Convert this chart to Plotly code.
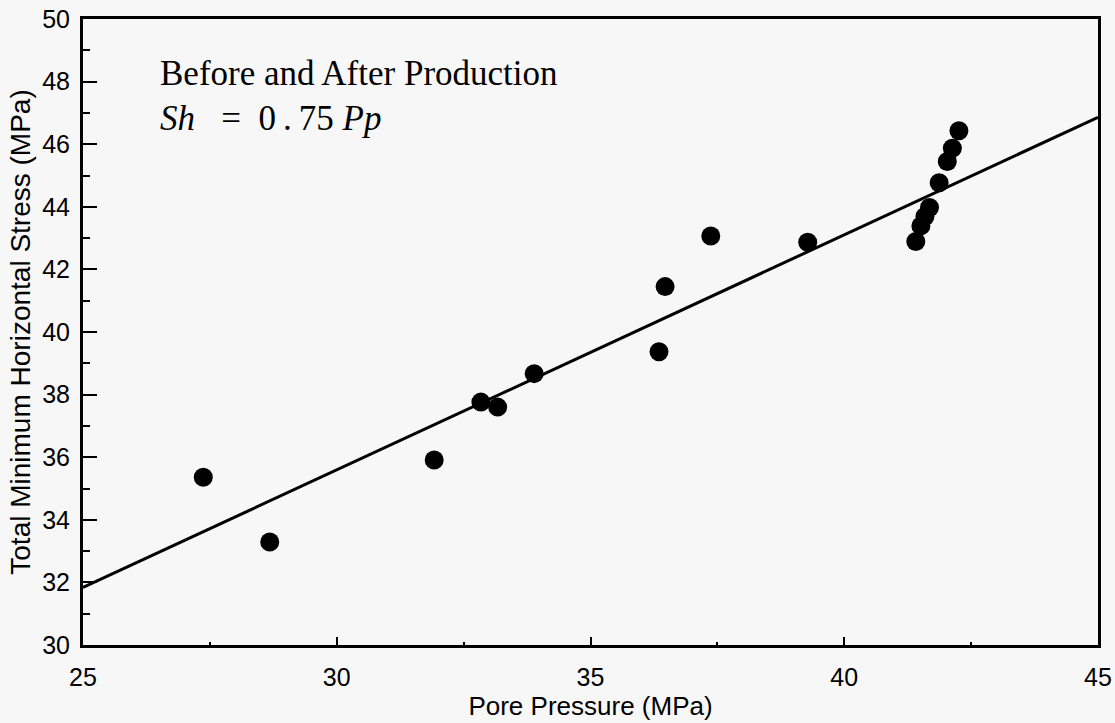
import plotly.graph_objects as go

# Data
pore_pressure = [27.37, 28.68, 31.92, 32.84, 33.17, 33.89, 36.35, 36.47, 37.37, 39.28,
                 41.41, 41.51, 41.59, 41.68, 41.87, 42.03, 42.13, 42.26]
min_horiz_stress = [35.36, 33.29, 35.91, 37.76, 37.60, 38.67, 39.37, 41.45, 43.07, 42.87,
                    42.89, 43.39, 43.69, 43.98, 44.77, 45.45, 45.87, 46.43]

fit_x = [25, 45]
fit_y = [31.84, 46.86]

x_ticks = [25, 30, 35, 40, 45]
y_ticks = [30, 32, 34, 36, 38, 40, 42, 44, 46, 48, 50]

title_line1 = "Before and After Production"
title_line2 = "<i>Sh</i>\u00a0\u00a0 =\u00a0 0\u2009.\u200975 <i>Pp</i>"

BG = "#f7f7f7"
SANS = "Liberation Sans, Arial, sans-serif"
SERIF = "Liberation Serif, Times New Roman, serif"

fig = go.Figure()
fig.add_trace(go.Scatter(x=fit_x, y=fit_y, mode="lines",
                         line=dict(color="black", width=3), showlegend=False,
                         hoverinfo="skip"))
fig.add_trace(go.Scatter(x=pore_pressure, y=min_horiz_stress, mode="markers",
                         marker=dict(color="black", size=19, line=dict(width=0)),
                         showlegend=False))

fig.update_layout(
    width=1115, height=723,
    margin=dict(l=83, r=17, t=19, b=78),
    paper_bgcolor=BG, plot_bgcolor=BG,
    font=dict(family=SANS, color="black", size=25),
    xaxis=dict(range=[25, 45], tickvals=x_ticks, ticktext=[str(v) for v in x_ticks],
               ticks="inside", ticklen=8, tickwidth=2, tickcolor="black",
               minor=dict(dtick=2.5, ticks="inside", ticklen=3, tickwidth=2, tickcolor="black"),
               showline=True, mirror=True, linewidth=3, linecolor="black",
               showgrid=False, zeroline=False, ticklabelstandoff=8, automargin=False,
               tickfont=dict(size=25, family=SANS),
               title=dict(text="Pore Pressure (MPa)", font=dict(size=26, family=SANS), standoff=0)),
    yaxis=dict(range=[30, 50], tickvals=y_ticks, ticktext=[str(v) for v in y_ticks],
               ticks="inside", ticklen=14, tickwidth=2, tickcolor="black",
               minor=dict(dtick=1, ticks="inside", ticklen=7, tickwidth=2, tickcolor="black"),
               showline=True, mirror=True, linewidth=3, linecolor="black",
               showgrid=False, zeroline=False, ticklabelstandoff=5, automargin=False,
               tickfont=dict(size=25, family=SANS),
               title=dict(text="Total Minimum Horizontal Stress (MPa)", font=dict(size=28, family=SANS), standoff=4)),
    annotations=[
        dict(x=26.48, y=48.26, xref="x", yref="y", xanchor="left", yanchor="middle",
             text=title_line1, showarrow=False, font=dict(family=SERIF, size=35, color="black")),
        dict(x=26.48, y=46.82, xref="x", yref="y", xanchor="left", yanchor="middle",
             text=title_line2, showarrow=False, font=dict(family=SERIF, size=35, color="black")),
    ],
)

fig.write_html("out.html")
